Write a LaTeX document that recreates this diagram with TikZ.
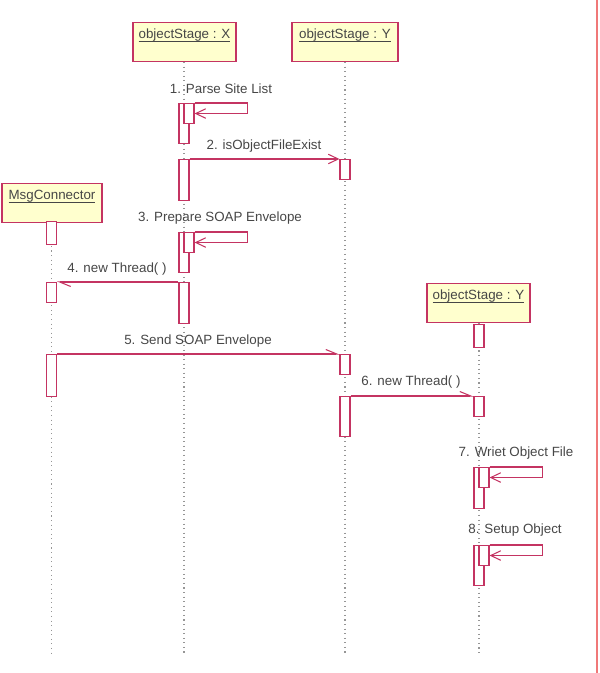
\documentclass[tikz,border=0pt]{standalone}
\usepackage{fontspec}
\setmainfont{Liberation Sans}
\usetikzlibrary{arrows.meta}

\definecolor{umlline}{RGB}{196,52,98}
\definecolor{umlfill}{RGB}{255,255,206}
\definecolor{umltext}{RGB}{70,70,70}
\definecolor{umldots}{RGB}{150,150,150}
\definecolor{umlframe}{RGB}{240,120,120}
\newcommand{\objname}[1]{\underline{\smash{#1}}}

\begin{document}
\begin{tikzpicture}[
  objbox/.style={draw=umlline, fill=umlfill, line width=0.6pt, inner sep=0pt,
    minimum width=2.06cm, text height=0.32cm, text depth=0.46cm, anchor=north,
    text=umltext, font=\fontsize{7.6}{9}\selectfont},
  actbar/.style={draw=umlline, fill=white, line width=0.6pt, inner sep=0pt,
    minimum width=0.2cm, anchor=north},
  lifeline/.style={draw=umldots, line width=0.6pt, dotted},
  callarrow/.style={draw=umlline, line width=0.6pt,
    -{Straight Barb[length=2mm, width=1.9mm]}},
  asyncarrow/.style={draw=umlline, line width=0.6pt,
    -{Straight Barb[length=2.2mm, width=1.8mm, left]}},
  msglabel/.style={text=umltext, inner sep=0pt, font=\fontsize{7.6}{9}\selectfont}
]
\useasboundingbox (0,0) rectangle (11.98,-13.46);
\draw[umlframe, line width=0.8pt] (11.94,0) -- (11.94,-13.46);

% objects
\node[objbox] (stageX) at (3.69,-0.44) {\objname{objectStage : X}};
\node[objbox, minimum width=2.12cm] (stageY) at (6.90,-0.44) {\objname{objectStage : Y}};
\node[objbox, minimum width=2.00cm] (connector) at (1.04,-3.66) {\objname{MsgConnector}};
\node[objbox] (stageYb) at (9.57,-5.66) {\objname{objectStage : Y}};

% lifelines
\coordinate (endX) at (3.68,-13.06);
\coordinate (endY) at (6.90,-13.06);
\coordinate (endC) at (1.03,-13.06);
\coordinate (endYb) at (9.58,-13.06);
\foreach \o/\e in {stageX/endX,stageY/endY,connector/endC,stageYb/endYb}
  \draw[lifeline] (\o.south -| \e) -- (\e);

% activations
\node[actbar, minimum height=0.80cm] (x1) at (3.68,-2.06) {};
\node[actbar, minimum height=0.40cm] (x1n) at (3.78,-2.06) {};
\node[actbar, minimum height=0.82cm] (x2) at (3.68,-3.18) {};
\node[actbar, minimum height=0.80cm] (x3) at (3.68,-4.64) {};
\node[actbar, minimum height=0.40cm] (x3n) at (3.78,-4.64) {};
\node[actbar, minimum height=0.82cm] (x4) at (3.68,-5.64) {};
\node[actbar, minimum height=0.40cm] (y1) at (6.90,-3.18) {};
\node[actbar, minimum height=0.40cm] (y2) at (6.90,-7.08) {};
\node[actbar, minimum height=0.80cm] (y3) at (6.90,-7.92) {};
\node[actbar, minimum height=0.46cm] (c1) at (1.03,-4.42) {};
\node[actbar, minimum height=0.40cm] (c2) at (1.03,-5.64) {};
\node[actbar, minimum height=0.84cm] (c3) at (1.03,-7.08) {};
\node[actbar, minimum height=0.46cm] (q1) at (9.58,-6.48) {};
\node[actbar, minimum height=0.40cm] (q2) at (9.58,-7.92) {};
\node[actbar, minimum height=0.82cm] (q3) at (9.58,-9.34) {};
\node[actbar, minimum height=0.40cm] (q3n) at (9.68,-9.34) {};
\node[actbar, minimum height=0.80cm] (q4) at (9.58,-10.90) {};
\node[actbar, minimum height=0.40cm] (q4n) at (9.68,-10.90) {};

% messages
\foreach \b in {x1n,x3n,q3n,q4n}
  \draw[callarrow] (\b.north east) -- ++(1.06,0) |- (\b.east);
\draw[callarrow] (x2.north east) -- (y1.north west);
\draw[asyncarrow] (x4.north west) -- (c2.north east);
\draw[asyncarrow] (c3.north east) -- (y2.north west);
\draw[asyncarrow] (y3.north east) -- (q2.north west);

% labels
\node[msglabel] (lbl1) at (4.42,-1.78) {1. Parse Site List};
\node[msglabel] (lbl2) at (5.28,-2.92) {2. isObjectFileExist};
\node[msglabel] (lbl3) at (4.40,-4.36) {3. Prepare SOAP Envelope};
\node[msglabel] (lbl4) at (2.34,-5.38) {4. new Thread( )};
\node[msglabel] (lbl5) at (3.96,-6.82) {5. Send SOAP Envelope};
\node[msglabel] (lbl6) at (8.22,-7.64) {6. new Thread( )};
\node[msglabel] (lbl7) at (10.32,-9.06) {7. Wriet Object File};
\node[msglabel] (lbl8) at (10.30,-10.60) {8. Setup Object};
\end{tikzpicture}
\end{document}
